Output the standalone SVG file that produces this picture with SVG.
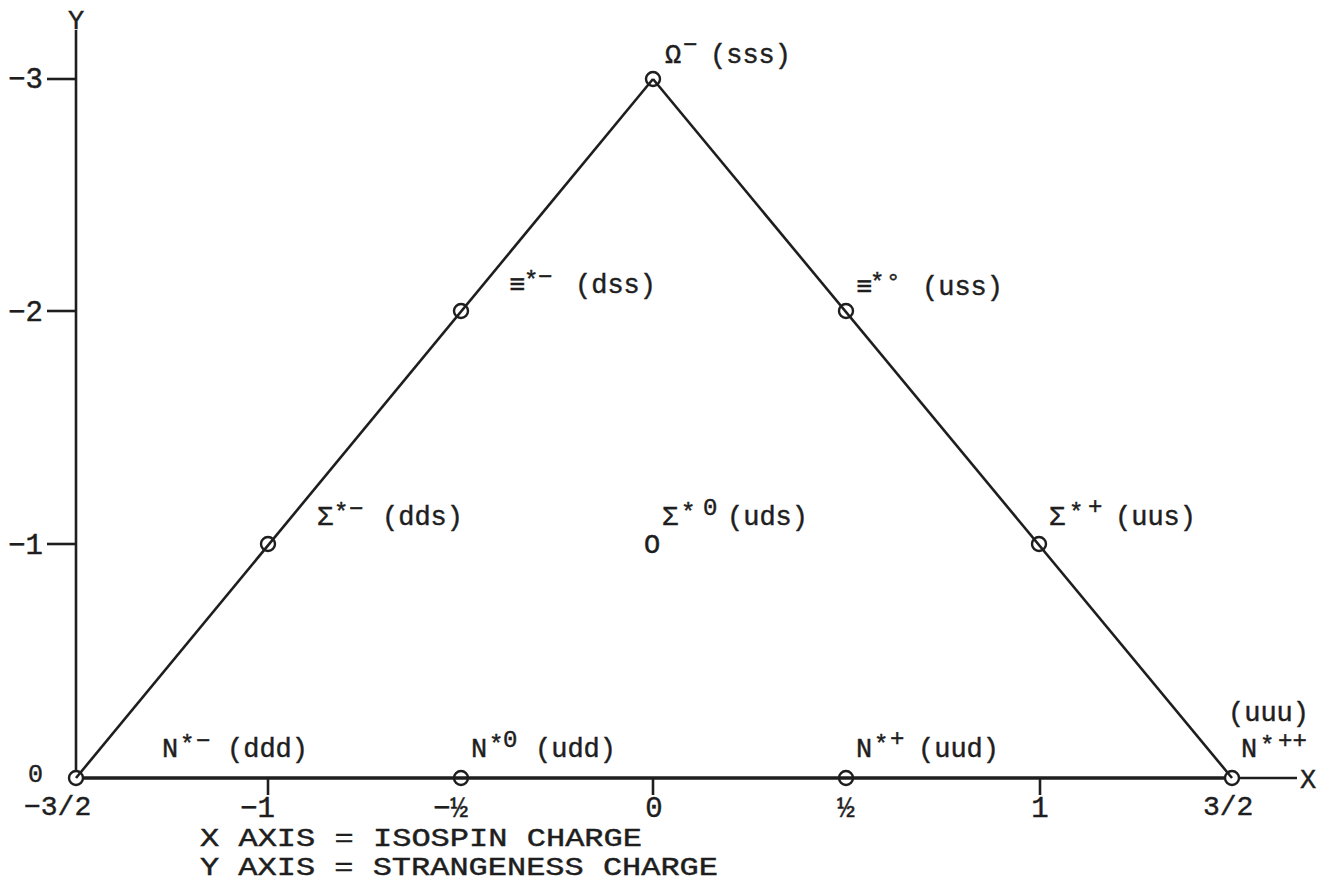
<svg xmlns="http://www.w3.org/2000/svg" width="1331" height="882" viewBox="0 0 1331 882">
<style>
text{font-family:"Liberation Mono","DejaVu Sans Mono",monospace;fill:#1e1e1e;stroke:#1e1e1e;stroke-width:0.45}
.l{font-size:27px}
.s{font-size:24px}
.t{font-size:29px}
.b{font-size:26px}
.ln{stroke:#1e1e1e;stroke-width:2.6;fill:none}
.ax{stroke:#1e1e1e;stroke-width:3.4;fill:none}
.pt{stroke:#1e1e1e;stroke-width:2.4;fill:none}
</style>
<rect width="1331" height="882" fill="#fff"/>
<g id="connectors">
<line class="ln" x1="76" y1="30" x2="76" y2="771"/>
<line class="ln" x1="47" y1="79" x2="76" y2="79"/>
<line class="ln" x1="47" y1="311" x2="76" y2="311"/>
<line class="ln" x1="47" y1="544" x2="76" y2="544"/>
<line class="ax" x1="83" y1="778" x2="1225" y2="778"/>
<line class="ln" x1="1239" y1="778" x2="1297" y2="778"/>
<line class="ln" x1="268" y1="778" x2="268" y2="795"/>
<line class="ln" x1="653" y1="778" x2="653" y2="795"/>
<line class="ln" x1="1040" y1="778" x2="1040" y2="795"/>
<line class="ln" x1="76" y1="778" x2="653" y2="79"/>
<line class="ln" x1="653" y1="79" x2="1232" y2="778"/>
</g>
<g id="axis-labels">
<text class="l" x="76" y="29" text-anchor="middle">Y</text>
<text class="l" x="1308" y="788" text-anchor="middle">X</text>
<text class="t" x="8" y="88">−3</text>
<text class="t" x="8" y="321">−2</text>
<text class="t" x="8" y="554">−1</text>
<text x="28" y="782" style="font-size:25px">0</text>
<text x="24" y="815" style="font-size:28px">−3/2</text>
<text class="t" x="240" y="817">−1</text>
<text class="t" x="433" y="817">−½</text>
<text class="t" x="654" y="817" text-anchor="middle">0</text>
<text class="t" x="846" y="817" text-anchor="middle">½</text>
<text class="t" x="1040" y="817" text-anchor="middle">1</text>
<text x="1203" y="815" style="font-size:28px">3/2</text>
<text class="b" x="200" y="846" textLength="442" lengthAdjust="spacingAndGlyphs">X AXIS = ISOSPIN CHARGE</text>
<text class="b" x="200" y="875" textLength="518" lengthAdjust="spacingAndGlyphs">Y AXIS = STRANGENESS CHARGE</text>
</g>
<g id="omega">
<circle class="pt" cx="653" cy="79" r="7"/>
<text class="l" x="665" y="63">Ω</text><text class="s" x="683" y="52">−</text><text class="l" x="710" y="63">(sss)</text>
</g>
<g id="xi-minus">
<circle class="pt" cx="461" cy="311" r="7"/>
<text class="l" x="509" y="293">≡</text><text class="s" x="524" y="288">*</text><text class="s" x="538" y="284">−</text><text class="l" x="575" y="293">(dss)</text>
</g>
<g id="xi-zero">
<circle class="pt" cx="846" cy="311" r="7"/>
<text class="l" x="856" y="295">≡</text><text class="s" x="870" y="290">*</text><text class="s" x="886" y="290">°</text><text class="l" x="922" y="295">(uss)</text>
</g>
<g id="sigma-minus">
<circle class="pt" cx="268" cy="544" r="7"/>
<text class="l" x="317" y="525">Σ</text><text class="s" x="334" y="520">*</text><text class="s" x="349" y="516">−</text><text class="l" x="382" y="525">(dds)</text>
</g>
<g id="sigma-zero">
<text class="l" x="644" y="553">O</text>
<text class="l" x="662" y="525">Σ</text><text class="s" x="681" y="520">*</text><text class="s" x="703" y="515">0</text><text class="l" x="727" y="525">(uds)</text>
</g>
<g id="sigma-plus">
<circle class="pt" cx="1039" cy="544" r="7"/>
<text class="l" x="1049" y="525">Σ</text><text class="s" x="1069" y="520">*</text><text class="s" x="1088" y="514">+</text><text class="l" x="1115" y="525">(uus)</text>
</g>
<g id="n-minus">
<circle class="pt" cx="76" cy="778" r="7"/>
<text class="l" x="162" y="757">N</text><text class="s" x="180" y="752">*</text><text class="s" x="196" y="748">−</text><text class="l" x="227" y="757">(ddd)</text>
</g>
<g id="n-zero">
<circle class="pt" cx="461" cy="778" r="7"/>
<text class="l" x="471" y="757">N</text><text class="s" x="489" y="752">*</text><text class="s" x="503" y="747">0</text><text class="l" x="535" y="757">(udd)</text>
</g>
<g id="n-plus">
<circle class="pt" cx="846" cy="778" r="7"/>
<text class="l" x="856" y="757">N</text><text class="s" x="874" y="752">*</text><text class="s" x="890" y="746">+</text><text class="l" x="918" y="757">(uud)</text>
</g>
<g id="n-plusplus">
<circle class="pt" cx="1232" cy="778" r="7"/>
<text class="l" x="1228" y="721">(uuu)</text>
<text class="l" x="1241" y="757">N</text><text class="s" x="1260" y="753">*</text><text class="s" x="1278" y="748">++</text>
</g>
</svg>
